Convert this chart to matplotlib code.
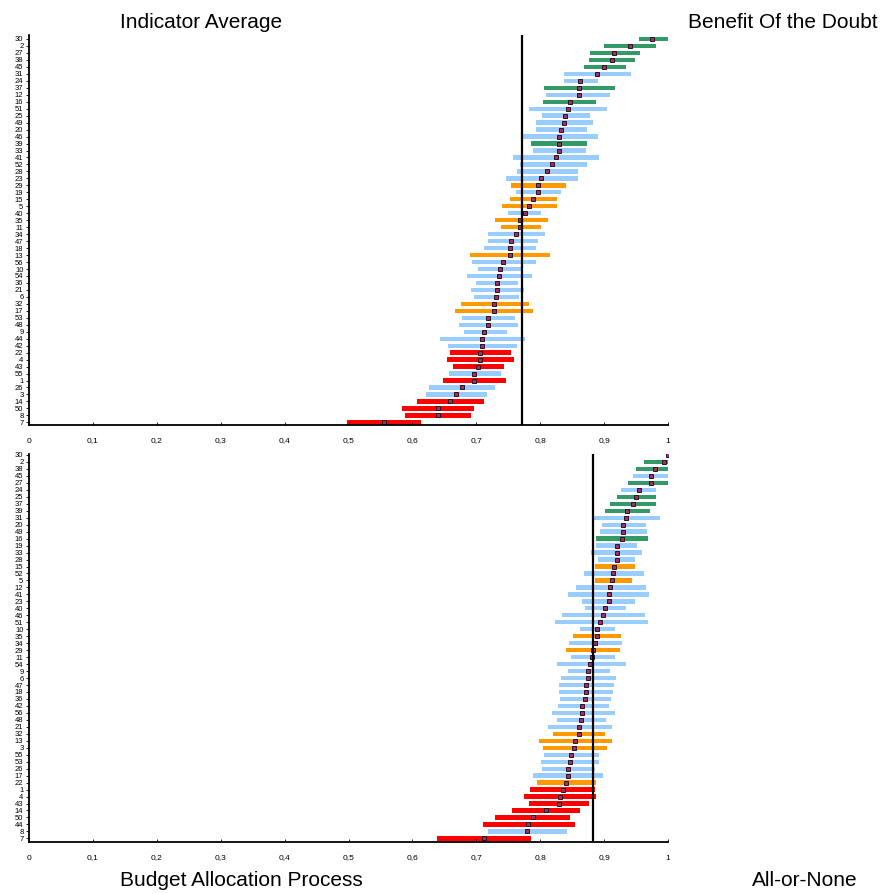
from matplotlib import pyplot as plt

plt.rcParams['font.family'] = ['Liberation Sans', 'DejaVu Sans']

palette = {'g': '#339966', 'b': '#99ccff', 'o': '#ff9900', 'r': '#ff0000'}

top_labels = ['30', '2', '27', '38', '45', '31', '24', '37', '12', '16', '51', '25', '49', '20',
              '46', '39', '33', '41', '52', '28', '23', '29', '19', '15', '5', '40', '35', '11',
              '34', '47', '18', '13', '56', '10', '54', '36', '21', '6', '32', '17', '53', '48',
              '9', '44', '42', '22', '4', '43', '55', '1', '26', '3', '14', '50', '8', '7']
top_groups = list('gggggbbgbgbbbbbgbbbbbobooboobbbobbbbbboobbbbbrrrbrbbrrrr')
top_mid = [0.975, 0.940, 0.916, 0.912, 0.900, 0.889, 0.863, 0.861, 0.860, 0.846, 0.843, 0.839,
           0.838, 0.833, 0.830, 0.829, 0.829, 0.824, 0.819, 0.810, 0.802, 0.796, 0.796, 0.789,
           0.783, 0.776, 0.769, 0.769, 0.762, 0.755, 0.753, 0.753, 0.742, 0.737, 0.736, 0.733,
           0.733, 0.731, 0.727, 0.727, 0.719, 0.719, 0.712, 0.709, 0.709, 0.706, 0.706, 0.702,
           0.697, 0.696, 0.677, 0.669, 0.659, 0.640, 0.640, 0.556]
top_lo = [0.955, 0.900, 0.878, 0.877, 0.869, 0.837, 0.837, 0.806, 0.809, 0.804, 0.783, 0.803,
          0.794, 0.793, 0.773, 0.786, 0.789, 0.757, 0.768, 0.764, 0.746, 0.754, 0.762, 0.753,
          0.740, 0.750, 0.729, 0.739, 0.718, 0.718, 0.712, 0.690, 0.693, 0.703, 0.686, 0.700,
          0.692, 0.696, 0.676, 0.666, 0.678, 0.673, 0.680, 0.643, 0.656, 0.659, 0.654, 0.664,
          0.657, 0.648, 0.626, 0.621, 0.607, 0.584, 0.588, 0.498]
top_hi = [1.020, 0.981, 0.956, 0.948, 0.934, 0.942, 0.890, 0.917, 0.910, 0.887, 0.904, 0.878,
          0.882, 0.874, 0.890, 0.874, 0.871, 0.892, 0.873, 0.859, 0.859, 0.841, 0.832, 0.827,
          0.827, 0.802, 0.812, 0.801, 0.808, 0.796, 0.794, 0.816, 0.793, 0.771, 0.787, 0.766,
          0.775, 0.767, 0.782, 0.788, 0.761, 0.766, 0.748, 0.776, 0.763, 0.754, 0.759, 0.743,
          0.738, 0.746, 0.729, 0.717, 0.712, 0.696, 0.692, 0.613]
top_ref = 0.772

bottom_labels = ['30', '2', '38', '45', '27', '24', '25', '37', '39', '31', '20', '49', '16', '19',
                 '33', '28', '15', '52', '5', '12', '41', '23', '40', '46', '51', '10', '35', '34',
                 '29', '11', '54', '9', '6', '47', '18', '36', '42', '56', '48', '21', '32', '13',
                 '3', '55', '53', '26', '17', '22', '1', '4', '43', '14', '50', '44', '8', '7']
bottom_groups = list('gggbgbggg' + 'bbbgbbbobobbbbbbbobobbbbbbbbbbbooobbbbo' + 'rrrrrrbrr')
bottom_mid = [1.000, 0.993, 0.979, 0.973, 0.973, 0.954, 0.950, 0.945, 0.936, 0.934, 0.930, 0.930,
              0.928, 0.920, 0.920, 0.920, 0.915, 0.914, 0.912, 0.909, 0.907, 0.907, 0.901, 0.898,
              0.894, 0.889, 0.889, 0.886, 0.882, 0.881, 0.878, 0.875, 0.875, 0.872, 0.872, 0.870,
              0.866, 0.866, 0.864, 0.861, 0.860, 0.854, 0.853, 0.848, 0.846, 0.844, 0.843, 0.841,
              0.835, 0.831, 0.829, 0.809, 0.788, 0.781, 0.780, 0.712]
bottom_lo = [1.000, 0.963, 0.950, 0.945, 0.937, 0.926, 0.920, 0.910, 0.901, 0.883, 0.897, 0.894,
             0.887, 0.888, 0.880, 0.891, 0.885, 0.869, 0.885, 0.856, 0.843, 0.866, 0.870, 0.834,
             0.823, 0.862, 0.851, 0.845, 0.840, 0.848, 0.826, 0.843, 0.833, 0.829, 0.829, 0.831,
             0.828, 0.818, 0.826, 0.812, 0.820, 0.798, 0.804, 0.806, 0.801, 0.803, 0.789, 0.795,
             0.784, 0.775, 0.782, 0.756, 0.729, 0.710, 0.718, 0.639]
bottom_hi = [1.040, 1.020, 1.010, 1.020, 1.020, 0.981, 0.981, 0.981, 0.972, 0.987, 0.965, 0.967,
             0.969, 0.951, 0.960, 0.948, 0.948, 0.962, 0.944, 0.965, 0.971, 0.948, 0.934, 0.964,
             0.968, 0.917, 0.926, 0.928, 0.925, 0.917, 0.935, 0.910, 0.919, 0.916, 0.914, 0.911,
             0.907, 0.917, 0.903, 0.912, 0.901, 0.912, 0.905, 0.892, 0.892, 0.885, 0.899, 0.887,
             0.885, 0.888, 0.876, 0.863, 0.847, 0.854, 0.842, 0.786]
bottom_ref = 0.883

x_ticks = [0, 0.1, 0.2, 0.3, 0.4, 0.5, 0.6, 0.7, 0.8, 0.9, 1]
x_ticklabels = ['0', '0,1', '0,2', '0,3', '0,4', '0,5', '0,6', '0,7', '0,8', '0,9', '1']


def draw_panel(ax, labels, groups, mid, lo, hi, ref, ylim):
    rows = list(range(len(labels)))
    colors = [palette[g] for g in groups]
    widths = [h - l for l, h in zip(lo, hi)]
    ax.barh(rows, widths, left=lo, height=0.62, color=colors, edgecolor='none')
    ax.plot(mid, rows, ls='none', marker='s', markersize=2.7,
            mfc='#a03060', mec='#2a1422', mew=0.7)
    ax.axvline(ref, color='black', lw=1.6)

    ax.set_xlim(0, 1)
    ax.set_ylim(*ylim)
    ax.set_yticks(rows)
    ax.set_yticklabels(labels, fontsize=5.5)
    ax.set_xticks(x_ticks)
    ax.set_xticklabels(x_ticklabels, fontsize=6)
    ax.tick_params(axis='y', direction='out', length=2.5, width=0.6, pad=1.5)
    ax.tick_params(axis='x', direction='in', length=2, width=0.6, pad=9)
    for side in ['top', 'right']:
        ax.spines[side].set_visible(False)
    for side in ['left', 'bottom']:
        ax.spines[side].set_linewidth(1.3)


fig = plt.figure(figsize=(8.85, 8.94), dpi=100)

ax_1 = fig.add_axes([29 / 885, 1 - 425 / 894, 639 / 885, 390 / 894])
ax_2 = fig.add_axes([29 / 885, 1 - 842 / 894, 639 / 885, 388 / 894])

draw_panel(ax_1, top_labels, top_groups, top_mid, top_lo, top_hi, top_ref, (55.38, -0.57))
draw_panel(ax_2, bottom_labels, bottom_groups, bottom_mid, bottom_lo, bottom_hi, bottom_ref,
           (55.52, -0.14))

fig.text(120 / 885, 1 - 22 / 894, 'Indicator Average', fontsize=15, va='center')
fig.text(688 / 885, 1 - 22 / 894, 'Benefit Of the Doubt', fontsize=15, va='center')
fig.text(120 / 885, 1 - 880 / 894, 'Budget Allocation Process', fontsize=15, va='center')
fig.text(752 / 885, 1 - 880 / 894, 'All-or-None', fontsize=15, va='center')

fig.savefig('out.png', dpi=100)
